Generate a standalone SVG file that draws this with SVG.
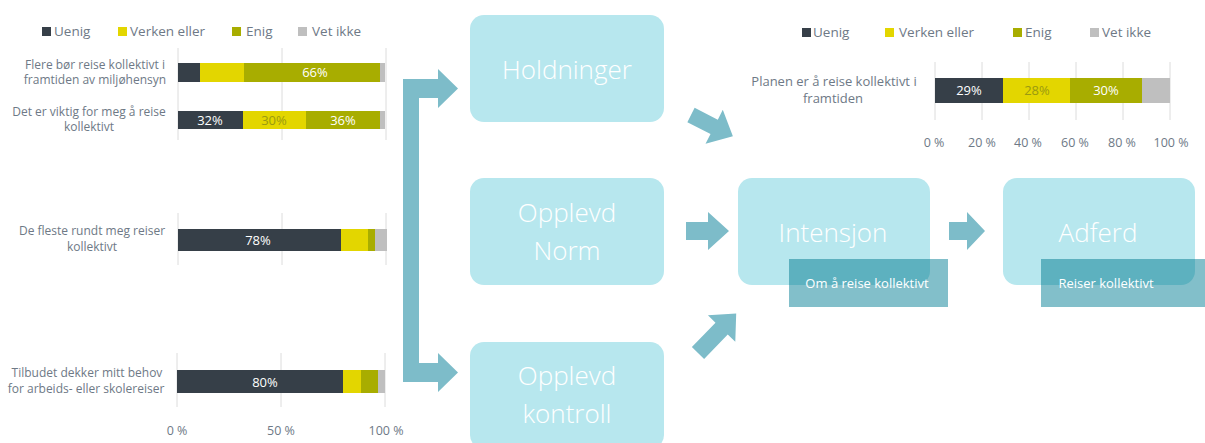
<svg xmlns="http://www.w3.org/2000/svg" width="1205" height="443" viewBox="0 0 1205 443">
<style>
.t{font-family:"Open Sans","Liberation Sans",sans-serif;fill:#6e7986}
.lg{font-size:13.5px}
.lab{font-size:12px;text-anchor:middle}
.ax{font-size:12.5px;text-anchor:middle}
.dv{font-family:"Open Sans","Liberation Sans",sans-serif;font-size:13px;text-anchor:middle;fill:#ffffff}
.dvy{font-family:"Open Sans","Liberation Sans",sans-serif;font-size:13px;text-anchor:middle;fill:#9a9a10}
.grid{stroke:#dcdcdc;stroke-width:1}
.c1{fill:#363f48}.c2{fill:#e3d600}.c3{fill:#a8ad00}.c4{fill:#bfbfbf}
.box{fill:#b7e7ee}
.bt{font-family:"Open Sans","Liberation Sans",sans-serif;font-size:26px;font-weight:300;fill:#ffffff;text-anchor:middle}
.tag{fill:#82bfca}
.tago{fill:#5db1bf}
.tt{font-family:"Open Sans","Liberation Sans",sans-serif;font-size:13px;fill:#ffffff;text-anchor:middle}
.arr{fill:#7dbcc9}
</style>
<defs>
<clipPath id="cInt"><rect x="738" y="178" width="192" height="107" rx="14"/></clipPath>
<clipPath id="cAdf"><rect x="1003" y="178" width="192" height="107" rx="14"/></clipPath>
</defs>

<g id="chart-left">
  <g id="legend-left">
    <rect class="c1" x="42" y="27" width="9" height="9"/><text class="t lg" x="54" y="36">Uenig</text>
    <rect class="c2" x="118" y="27" width="9" height="9"/><text class="t lg" x="130" y="36">Verken eller</text>
    <rect class="c3" x="232" y="27" width="9" height="9"/><text class="t lg" x="246" y="36">Enig</text>
    <rect class="c4" x="298" y="27" width="9" height="9"/><text class="t lg" x="312" y="36">Vet ikke</text>
  </g>
  <g id="grid-left">
    <line class="grid" x1="178" y1="48" x2="178" y2="140"/>
    <line class="grid" x1="282" y1="48" x2="282" y2="140"/>
    <line class="grid" x1="386" y1="48" x2="386" y2="140"/>
    <line class="grid" x1="178" y1="213" x2="178" y2="265"/>
    <line class="grid" x1="282" y1="213" x2="282" y2="265"/>
    <line class="grid" x1="386" y1="213" x2="386" y2="265"/>
    <line class="grid" x1="177" y1="353" x2="177" y2="407"/>
    <line class="grid" x1="281" y1="353" x2="281" y2="407"/>
    <line class="grid" x1="385" y1="353" x2="385" y2="407"/>
  </g>
  <g id="bar-flere">
    <text class="t lab" x="95" y="69">Flere bør reise kollektivt i</text>
    <text class="t lab" x="95" y="84">framtiden av miljøhensyn</text>
    <rect class="c1" x="178" y="63" width="22" height="19"/>
    <rect class="c2" x="200" y="63" width="44" height="19"/>
    <rect class="c3" x="244" y="63" width="136" height="19"/>
    <rect class="c4" x="380" y="63" width="5" height="19"/>
    <text class="dv" x="315" y="77">66%</text>
  </g>
  <g id="bar-viktig">
    <text class="t lab" x="89" y="116">Det er viktig for meg å reise</text>
    <text class="t lab" x="89" y="131">kollektivt</text>
    <rect class="c1" x="178" y="111" width="65" height="18"/>
    <rect class="c2" x="243" y="111" width="63" height="18"/>
    <rect class="c3" x="306" y="111" width="74" height="18"/>
    <rect class="c4" x="380" y="111" width="5" height="18"/>
    <text class="dv" x="210" y="125">32%</text>
    <text class="dvy" x="274" y="125">30%</text>
    <text class="dv" x="343" y="125">36%</text>
  </g>
  <g id="bar-fleste">
    <text class="t lab" x="92" y="235">De fleste rundt meg reiser</text>
    <text class="t lab" x="92" y="251">kollektivt</text>
    <rect class="c1" x="178" y="229" width="163" height="22"/>
    <rect class="c2" x="341" y="229" width="27" height="22"/>
    <rect class="c3" x="368" y="229" width="7" height="22"/>
    <rect class="c4" x="375" y="229" width="12" height="22"/>
    <text class="dv" x="258" y="245">78%</text>
  </g>
  <g id="bar-tilbud">
    <text class="t lab" x="87" y="377">Tilbudet dekker mitt behov</text>
    <text class="t lab" x="86" y="393">for arbeids- eller skolereiser</text>
    <rect class="c1" x="177" y="370" width="166" height="23"/>
    <rect class="c2" x="343" y="370" width="18" height="23"/>
    <rect class="c3" x="361" y="370" width="17" height="23"/>
    <rect class="c4" x="378" y="370" width="7" height="23"/>
    <text class="dv" x="265" y="387">80%</text>
  </g>
  <g id="axis-left">
    <text class="t ax" x="177" y="435">0 %</text>
    <text class="t ax" x="281" y="435">50 %</text>
    <text class="t ax" x="386" y="435">100 %</text>
  </g>
</g>

<g id="chart-right">
  <g id="legend-right">
    <rect class="c1" x="802" y="28" width="9" height="9"/><text class="t lg" x="813" y="37">Uenig</text>
    <rect class="c2" x="885" y="28" width="9" height="9"/><text class="t lg" x="899" y="37">Verken eller</text>
    <rect class="c3" x="1013" y="28" width="9" height="9"/><text class="t lg" x="1025" y="37">Enig</text>
    <rect class="c4" x="1090" y="28" width="9" height="9"/><text class="t lg" x="1102" y="37">Vet ikke</text>
  </g>
  <g id="grid-right">
    <line class="grid" x1="935" y1="62" x2="935" y2="120"/>
    <line class="grid" x1="982" y1="62" x2="982" y2="120"/>
    <line class="grid" x1="1029" y1="62" x2="1029" y2="120"/>
    <line class="grid" x1="1076" y1="62" x2="1076" y2="120"/>
    <line class="grid" x1="1123" y1="62" x2="1123" y2="120"/>
    <line class="grid" x1="1170" y1="62" x2="1170" y2="120"/>
  </g>
  <g id="bar-planen">
    <text class="t lab" x="834" y="86" style="font-size:13px">Planen er å reise kollektivt i</text>
    <text class="t lab" x="833" y="103" style="font-size:13px">framtiden</text>
    <rect class="c1" x="935" y="78" width="68" height="25"/>
    <rect class="c2" x="1003" y="78" width="67" height="25"/>
    <rect class="c3" x="1070" y="78" width="72" height="25"/>
    <rect class="c4" x="1142" y="78" width="28" height="25"/>
    <text class="dv" x="969" y="95">29%</text>
    <text class="dvy" x="1037" y="95">28%</text>
    <text class="dv" x="1106" y="95">30%</text>
  </g>
  <g id="axis-right">
    <text class="t ax" x="934" y="147">0 %</text>
    <text class="t ax" x="982" y="147">20 %</text>
    <text class="t ax" x="1028" y="147">40 %</text>
    <text class="t ax" x="1075" y="147">60 %</text>
    <text class="t ax" x="1122" y="147">80 %</text>
    <text class="t ax" x="1171" y="147">100 %</text>
  </g>
</g>

<g id="connectors">
  <path class="arr" d="M403,79 L438,79 L438,69 L458,88.5 L438,108 L438,98 L419,98 L419,363 L438,363 L438,353 L458,372.5 L438,392 L438,382 L403,382 Z"/>
  <path class="arr" transform="translate(691,115) rotate(27)" d="M0,-8 L26,-8 L26,-19 L47,0 L26,19 L26,8 L0,8 Z"/>
  <path class="arr" d="M686,222 L708,222 L708,212 L729,231 L708,250 L708,240 L686,240 Z"/>
  <path class="arr" transform="translate(698,353) rotate(-46)" d="M0,-8.5 L34,-8.5 L34,-19 L55,0 L34,19 L34,8.5 L0,8.5 Z"/>
  <path class="arr" d="M949,222 L967,222 L967,212 L985,231 L967,250 L967,240 L949,240 Z"/>
</g>

<g id="node-holdninger">
  <rect class="box" x="470" y="15" width="194" height="107" rx="14"/>
  <text class="bt" x="567" y="79">Holdninger</text>
</g>
<g id="node-norm">
  <rect class="box" x="470" y="178" width="194" height="107" rx="14"/>
  <text class="bt" x="567" y="222">Opplevd</text>
  <text class="bt" x="567" y="260">Norm</text>
</g>
<g id="node-kontroll">
  <rect class="box" x="470" y="342" width="194" height="107" rx="14"/>
  <text class="bt" x="567" y="385">Opplevd</text>
  <text class="bt" x="567" y="423">kontroll</text>
</g>
<g id="node-intensjon">
  <rect class="box" x="738" y="178" width="192" height="107" rx="14"/>
  <text class="bt" x="833" y="242">Intensjon</text>
  <rect class="tag" x="789" y="259" width="159" height="48"/>
  <rect class="tago" x="789" y="259" width="159" height="48" clip-path="url(#cInt)"/>
  <text class="tt" x="867" y="288">Om å reise kollektivt</text>
</g>
<g id="node-adferd">
  <rect class="box" x="1003" y="178" width="192" height="107" rx="14"/>
  <text class="bt" x="1098" y="242">Adferd</text>
  <rect class="tag" x="1041" y="259" width="170" height="48"/>
  <rect class="tago" x="1041" y="259" width="170" height="48" clip-path="url(#cAdf)"/>
  <text class="tt" x="1106" y="288">Reiser kollektivt</text>
</g>
</svg>
